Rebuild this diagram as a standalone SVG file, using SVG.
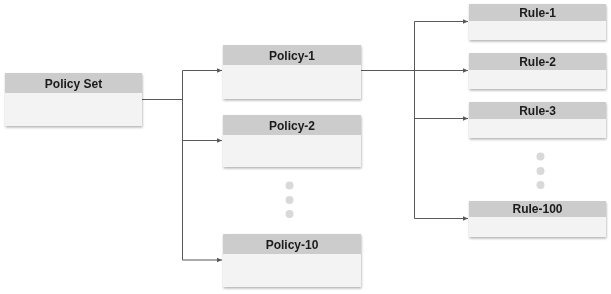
<svg xmlns="http://www.w3.org/2000/svg" width="611" height="294" viewBox="0 0 611 294">
<style>
.hd{fill:#cccccc}
.bd{fill:#f3f3f3}
.lb{font-family:"Liberation Sans",Arial,sans-serif;font-size:12px;font-weight:bold;fill:#1a1a1a;text-anchor:middle}
.ln{fill:none;stroke:#595959;stroke-width:1}
.dot{fill:#d9d9d9}
</style>
<defs>
<filter id="sh" x="-10%" y="-10%" width="120%" height="130%">
<feDropShadow dx="0.5" dy="1.5" stdDeviation="1" flood-color="#000" flood-opacity="0.3"/>
</filter>
<marker id="ah" markerWidth="6" markerHeight="6" refX="5" refY="3" orient="auto" markerUnits="userSpaceOnUse">
<path d="M0,0.8 L5,3 L0,5.2 Z" fill="#595959"/>
</marker>
</defs>
<g id="connectors">
<path class="ln" d="M142,99.5 H182.5"/>
<path class="ln" d="M182.5,70.5 V260"/>
<path class="ln" d="M182.5,70.5 H222" marker-end="url(#ah)"/>
<path class="ln" d="M182.5,140.5 H222" marker-end="url(#ah)"/>
<path class="ln" d="M182.5,260 H222" marker-end="url(#ah)"/>
<path class="ln" d="M361,70.5 H414.5"/>
<path class="ln" d="M414.5,21.5 V218.5"/>
<path class="ln" d="M414.5,21.5 H468" marker-end="url(#ah)"/>
<path class="ln" d="M414.5,70.5 H468" marker-end="url(#ah)"/>
<path class="ln" d="M414.5,118.5 H468" marker-end="url(#ah)"/>
<path class="ln" d="M414.5,218.5 H468" marker-end="url(#ah)"/>
</g>
<g id="policy-set" filter="url(#sh)">
<rect class="bd" x="5" y="73" width="137" height="53"/>
<rect class="hd" x="5" y="73" width="137" height="20"/>
<text class="lb" x="73.5" y="87.5">Policy Set</text>
</g>
<g id="policy-1" filter="url(#sh)">
<rect class="bd" x="223" y="45" width="138" height="54"/>
<rect class="hd" x="223" y="45" width="138" height="20"/>
<text class="lb" x="292" y="59.5">Policy-1</text>
</g>
<g id="policy-2" filter="url(#sh)">
<rect class="bd" x="223" y="115" width="138" height="52"/>
<rect class="hd" x="223" y="115" width="138" height="20"/>
<text class="lb" x="292" y="129.5">Policy-2</text>
</g>
<g id="policy-dots">
<circle class="dot" cx="289.5" cy="185.5" r="4"/>
<circle class="dot" cx="289.5" cy="200" r="4"/>
<circle class="dot" cx="289.5" cy="214" r="4"/>
</g>
<g id="policy-10" filter="url(#sh)">
<rect class="bd" x="223" y="234" width="138" height="53"/>
<rect class="hd" x="223" y="234" width="138" height="20"/>
<text class="lb" x="292" y="248.5">Policy-10</text>
</g>
<g id="rule-1" filter="url(#sh)">
<rect class="bd" x="469" y="4" width="137" height="36"/>
<rect class="hd" x="469" y="4" width="137" height="17"/>
<text class="lb" x="537.5" y="16.5">Rule-1</text>
</g>
<g id="rule-2" filter="url(#sh)">
<rect class="bd" x="469" y="53" width="137" height="36"/>
<rect class="hd" x="469" y="53" width="137" height="17"/>
<text class="lb" x="537.5" y="65.5">Rule-2</text>
</g>
<g id="rule-3" filter="url(#sh)">
<rect class="bd" x="469" y="102" width="137" height="36"/>
<rect class="hd" x="469" y="102" width="137" height="17"/>
<text class="lb" x="537.5" y="114.5">Rule-3</text>
</g>
<g id="rule-dots">
<circle class="dot" cx="540.5" cy="156.5" r="4"/>
<circle class="dot" cx="540.5" cy="171" r="4"/>
<circle class="dot" cx="540.5" cy="185" r="4"/>
</g>
<g id="rule-100" filter="url(#sh)">
<rect class="bd" x="469" y="201" width="137" height="36"/>
<rect class="hd" x="469" y="201" width="137" height="16"/>
<text class="lb" x="537.5" y="213">Rule-100</text>
</g>
</svg>
